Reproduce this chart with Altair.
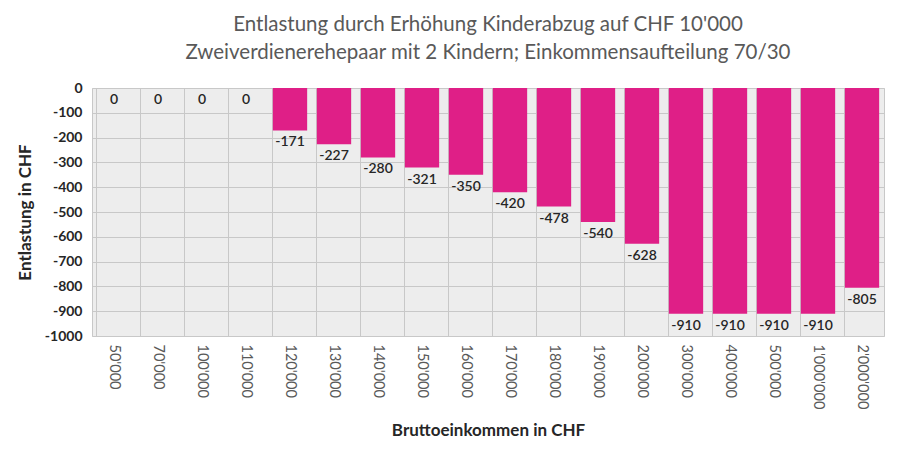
import altair as alt
import pandas as pd

categories = ["50'000", "70'000", "100'000", "110'000", "120'000", "130'000", "140'000",
              "150'000", "160'000", "170'000", "180'000", "190'000", "200'000", "300'000",
              "400'000", "500'000", "1'000'000", "2'000'000"]
values = [0, 0, 0, 0, -171, -227, -280, -321, -350, -420, -478, -540, -628, -910, -910, -910, -910, -805]
yticks = [0, -100, -200, -300, -400, -500, -600, -700, -800, -900, -1000]

df = pd.DataFrame({"cat": categories, "val": values})
df["lbl"] = df["val"].astype(str)

FONT = "Lato"
xaxis = alt.Axis(labelAngle=90, labelAlign="left", labelBaseline="middle",
                 labelFontSize=14.5, labelColor="#595959", labelFont=FONT,
                 ticks=False, domain=False, grid=True, gridColor="#C8C8C8",
                 bandPosition=0, labelPadding=8,
                 titleFontSize=17, titleFont=FONT, titleFontWeight="bold",
                 titleColor="#262626", titlePadding=14)
yaxis = alt.Axis(values=yticks, ticks=False, domain=False, tickCount=11,
                 labelOverlap=False, labelExpr="'' + datum.value",
                 labelFontSize=14, labelFontWeight="bold", labelColor="#262626",
                 labelFont=FONT, labelPadding=10, gridColor="#C8C8C8",
                 titleFontSize=17, titleFont=FONT, titleFontWeight="bold",
                 titleColor="#262626", titlePadding=10)
xscale = alt.Scale(paddingInner=0.22, paddingOuter=0.11)
yscale = alt.Scale(domain=[-1000, 0], nice=False)

x = alt.X("cat:N", sort=categories, title="Bruttoeinkommen in CHF", scale=xscale, axis=xaxis)
y = alt.Y("val:Q", scale=yscale, title="Entlastung in CHF", axis=yaxis)

bars = alt.Chart(df).mark_bar(color="#DF1F87").encode(x=x, y=y)

labels = alt.Chart(df).mark_text(baseline="top", dy=5, fontSize=14, font=FONT,
                                 fontWeight=600, color="#262626").encode(
    x=x, y=y, text=alt.Text("lbl:N"),
)

chart = (bars + labels).properties(
    width=792, height=248,
    padding={"left": 92, "top": 88, "right": 16, "bottom": 114},
    autosize=alt.AutoSizeParams(type="none"),
    background="white",
    title=alt.TitleParams(
        ["Entlastung durch Erhöhung Kinderabzug auf CHF 10'000",
         "Zweiverdienerehepaar mit 2 Kindern; Einkommensaufteilung 70/30"],
        font=FONT, fontSize=20.5, fontWeight="normal", color="#595959",
        anchor="middle", lineHeight=28, offset=18, dx=0),
).configure_view(fill="#EDEDED", stroke="#C8C8C8", strokeWidth=1)

chart.save("out.html", embed_options={"renderer": "svg", "actions": False})
